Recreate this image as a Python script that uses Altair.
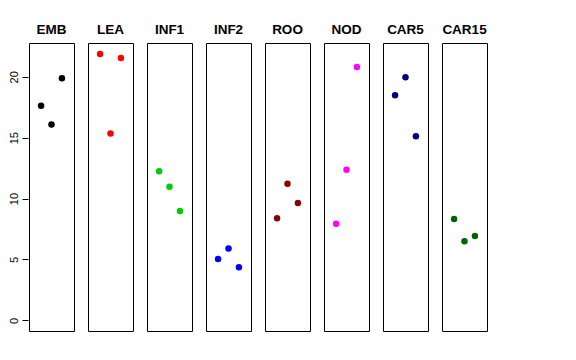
import altair as alt
import pandas as pd

groups = ["EMB", "LEA", "INF1", "INF2", "ROO", "NOD", "CAR5", "CAR15"]
colors = ["#000000", "#FF0000", "#00CD00", "#0000FF", "#8B0000", "#FF00FF", "#000080", "#006400"]
replicate = [1, 2, 3]
values = {
    "EMB": [17.62, 16.08, 19.88],
    "LEA": [21.87, 15.34, 21.54],
    "INF1": [12.25, 10.97, 8.98],
    "INF2": [5.04, 5.89, 4.36],
    "ROO": [8.38, 11.21, 9.63],
    "NOD": [7.93, 12.36, 20.80],
    "CAR5": [18.48, 19.96, 15.12],
    "CAR15": [8.32, 6.49, 6.93],
}

rows = []
for g in groups:
    for r, v in zip(replicate, values[g]):
        rows.append({"group": g, "rep": r, "value": v})
df = pd.DataFrame(rows)

chart = alt.Chart(df).mark_circle(size=42, opacity=1).encode(
    x=alt.X("rep:Q", scale=alt.Scale(domain=[-0.16, 4.16], nice=False, zero=False), axis=None),
    y=alt.Y("value:Q", scale=alt.Scale(domain=[-0.876, 22.776], nice=False, zero=False),
            axis=alt.Axis(values=[0, 5, 10, 15, 20], title=None, grid=False, labelAngle=-90,
                          labelAlign="center", labelBaseline="bottom", tickSize=6,
                          labelPadding=3, labelFontSize=11, labelColor="#000", tickColor="#000",
                          domain=False, labelFont="Liberation Sans")),
    color=alt.Color("group:N", scale=alt.Scale(domain=groups, range=colors), legend=None),
).properties(width=45, height=288).facet(
    column=alt.Column("group:N", sort=groups,
                      header=alt.Header(title=None, labelFontSize=13.5, labelFontWeight="bold",
                                        labelFont="Liberation Sans", labelColor="#000",
                                        labelPadding=6)),
    spacing=12,
).properties(padding={"top": 14, "left": 0, "right": 5, "bottom": 5}).configure_view(
    stroke="#000", strokeWidth=1
)

chart.save("out.html", embed_options={"renderer": "svg", "actions": False})
